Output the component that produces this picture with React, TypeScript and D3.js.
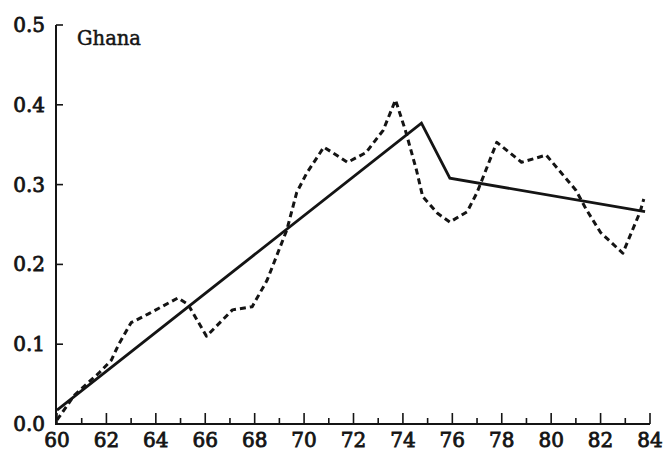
import React from "react";
import * as d3 from "d3";

// Ghana series: annual observations (dashed) and fitted trend (solid)
const observedYears = [
  60.0, 60.7, 61.7, 62.2, 62.5, 63.0, 63.7, 64.9, 65.3, 66.05, 67.1, 67.9, 68.5,
  69.3, 69.7, 70.1, 70.8, 71.76, 72.5, 73.2, 73.7, 74.1, 74.55, 74.8, 75.4, 75.9,
  76.6, 77.0, 77.8, 78.8, 79.8, 81.0, 81.4, 82.0, 82.9, 83.6, 83.75,
];
const observedValues = [
  0.005, 0.036, 0.064, 0.08, 0.1, 0.127, 0.138, 0.158, 0.15, 0.11, 0.143, 0.147,
  0.18, 0.243, 0.29, 0.314, 0.347, 0.328, 0.34, 0.368, 0.406, 0.368, 0.318, 0.285,
  0.264, 0.253, 0.266, 0.29, 0.353, 0.328, 0.337, 0.293, 0.27, 0.24, 0.214, 0.266,
  0.282,
];

const trendYears = [60.0, 74.75, 75.9, 83.8];
const trendValues = [0.0175, 0.377, 0.308, 0.266];

const xTickValues = [60, 62, 64, 66, 68, 70, 72, 74, 76, 78, 80, 82, 84];
const xMinorTicks = d3.range(60, 85, 1);
const yTickValues = [0.0, 0.1, 0.2, 0.3, 0.4, 0.5];
const countryLabel = "Ghana";

const W = 667;
const H = 458;
const INK = "#141414";
const FONT = "'DejaVu Serif', serif";

export default function App() {
  const x = d3.scaleLinear().domain([60, 84]).range([57, 650]);
  const y = d3.scaleLinear().domain([0, 0.5]).range([424, 25]);
  const axisX = 56;

  const line = d3
    .line<[number, number]>()
    .x((d) => x(d[0]))
    .y((d) => y(d[1]))
    .curve(d3.curveLinear);

  const observed = observedYears.map((yr, i) => [yr, observedValues[i]] as [number, number]);
  const trend = trendYears.map((yr, i) => [yr, trendValues[i]] as [number, number]);

  return (
    <svg
      width={W}
      height={H}
      viewBox={`0 0 ${W} ${H}`}
      style={{ position: "absolute", left: 0, top: 0, background: "#fff" }}
    >
      <rect x={0} y={0} width={W} height={H} fill="#fff" />

      {/* axes */}
      <line x1={axisX} y1={y(0.5)} x2={axisX} y2={y(0) + 1} stroke={INK} strokeWidth={2} />
      <line x1={axisX - 1} y1={y(0)} x2={x(84)} y2={y(0)} stroke={INK} strokeWidth={2} />

      {/* y ticks, pointing inward */}
      {yTickValues.map((v) => (
        <g key={`yt${v}`}>
          <line x1={axisX} x2={axisX + 7} y1={y(v)} y2={y(v)} stroke={INK} strokeWidth={1.6} />
          <text
            x={45}
            y={y(v) + 7}
            textAnchor="end"
            fontFamily={FONT}
            fontSize={20}
            fill={INK}
            stroke={INK}
            strokeWidth={0.8}
          >
            {d3.format(".1f")(v)}
          </text>
        </g>
      ))}

      {/* x ticks: minor every year, major every second year */}
      {xMinorTicks.map((t) => {
        const major = t % 2 === 0;
        return (
          <line
            key={`xt${t}`}
            x1={x(t)}
            x2={x(t)}
            y1={y(0)}
            y2={y(0) - (major ? 11 : 6)}
            stroke={INK}
            strokeWidth={1.6}
          />
        );
      })}
      {xTickValues.map((t) => (
        <text
          key={`xl${t}`}
          x={x(t)}
          y={447}
          textAnchor="middle"
          fontFamily={FONT}
          fontSize={20}
          fill={INK}
          stroke={INK}
          strokeWidth={0.8}
        >
          {t}
        </text>
      ))}

      {/* series */}
      <path
        d={line(trend) ?? ""}
        fill="none"
        stroke={INK}
        strokeWidth={2.8}
        strokeLinejoin="miter"
      />
      <path
        d={line(observed) ?? ""}
        fill="none"
        stroke={INK}
        strokeWidth={3}
        strokeDasharray="6 4"
        strokeLinejoin="round"
      />

      <text
        x={77}
        y={45}
        fontFamily={FONT}
        fontSize={19.5}
        fill={INK}
        stroke={INK}
        strokeWidth={0.5}
      >
        {countryLabel}
      </text>
    </svg>
  );
}
